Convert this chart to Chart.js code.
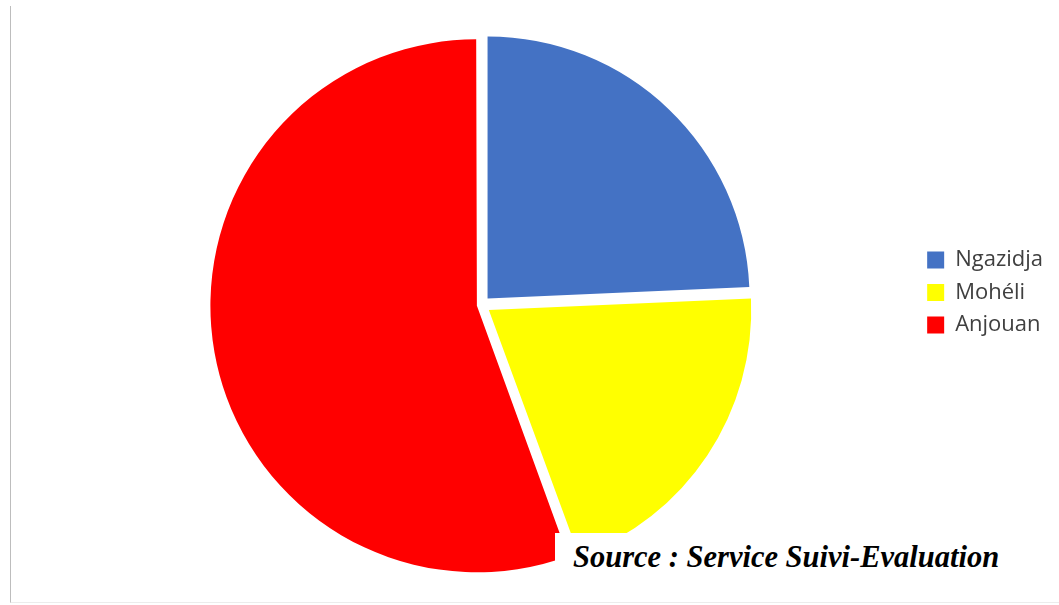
<!DOCTYPE html>
<html lang="fr">
<head>
<meta charset="utf-8">
<title>Répartition par île</title>
<script src="https://cdn.jsdelivr.net/npm/chart.js@4.4.1/dist/chart.umd.min.js"></script>
<style>
    html, body { margin: 0; padding: 0; background: #fff; }
    #cadre { position: relative; width: 1059px; height: 605px; overflow: hidden; }
    #bordure {
        position: absolute; left: 10px; top: 6px; width: 1060px; height: 596px;
        border-left: 1px solid #bdbdbd; border-bottom: 1px solid #ececec;
    }
    #zone { position: absolute; left: 0; top: 0; width: 1059px; height: 605px; }
    #masque { position: absolute; left: 555px; top: 533px; width: 460px; height: 62px; background: #fff; }
    #source {
        position: absolute; left: 573px; top: 542px; white-space: nowrap;
        font-family: "Liberation Serif", serif; font-weight: bold; font-style: italic;
        font-size: 30.5px; line-height: 30px; color: #000;
    }
</style>
</head>
<body>
<div id="cadre">
    <div id="bordure"></div>
    <div id="zone"><canvas id="graphe"></canvas></div>
    <div id="masque"></div>
    <div id="source">Source : Service Suivi-Evaluation</div>
</div>

<script>
// ---------------------------------------------------------
// DONNEES (en %)
// ---------------------------------------------------------
const iles = ['Ngazidja', 'Mohéli', 'Anjouan'];
const parts = [24.3, 20.1, 55.6];
const couleurs = ['#4472C4', '#FFFF00', '#FF0000'];
// secteurs legerement detaches (effet "explosé")
const decalages = [36, 36, 18];

new Chart(document.getElementById('graphe'), {
    type: 'pie',
    data: {
        labels: iles,
        datasets: [{
            data: parts,
            backgroundColor: couleurs,
            borderWidth: 0,
            offset: decalages,
            hoverOffset: 0
        }]
    },
    options: {
        responsive: true,
        maintainAspectRatio: false,
        animation: false,
        layout: {
            padding: { left: 46, right: 6, top: 0, bottom: 20 }
        },
        plugins: {
            // titre vide : sert juste d'espace au-dessus du camembert
            title: {
                display: true,
                text: '',
                fullSize: false,
                padding: 0,
                font: { size: 25, lineHeight: 1 }
            },
            legend: {
                position: 'right',
                align: 'center',
                labels: {
                    color: '#404040',
                    font: { family: 'Open Sans', size: 22 },
                    boxWidth: 17,
                    boxHeight: 17,
                    padding: 10.5
                }
            },
            tooltip: { enabled: false }
        }
    }
});
</script>
</body>
</html>
